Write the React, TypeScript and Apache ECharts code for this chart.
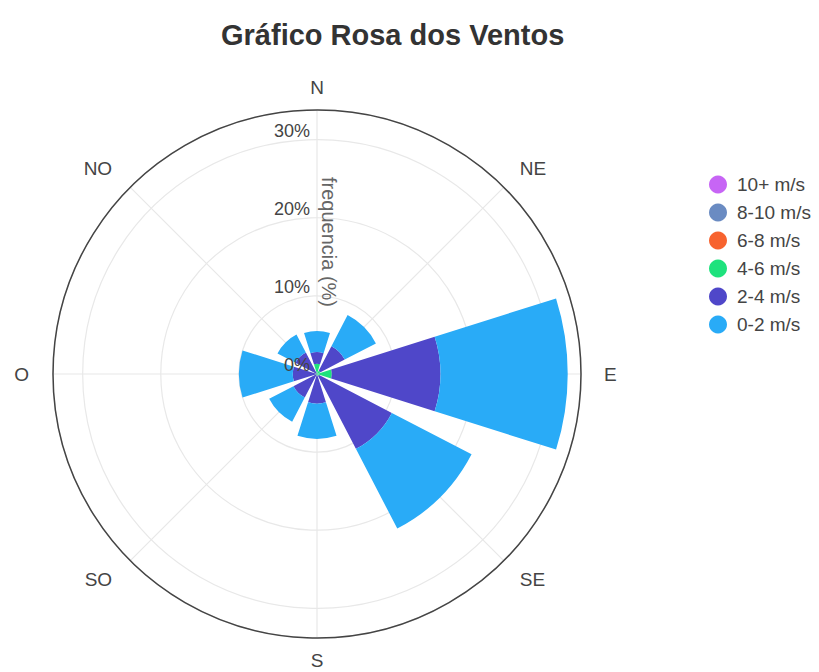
import React, { useEffect, useRef } from 'react';
import * as echarts from 'echarts';

const directions = ['N', 'NE', 'E', 'SE', 'S', 'SO', 'O', 'NO'];
const speedBins = ['10+ m/s', '8-10 m/s', '6-8 m/s', '4-6 m/s', '2-4 m/s', '0-2 m/s'];
const freq10plus = [0, 0, 0, 0, 0, 0, 0, 0];
const freq8to10 = [0, 0, 0, 0, 0, 0, 0, 0];
const freq6to8 = [0, 0, 0, 0, 0, 0, 0, 0];
const freq4to6 = [1.3, 0.5, 1.9, 0.3, 0.2, 0.1, 0.2, 0.1];
const freq2to4 = [1.5, 3.5, 13.9, 10.5, 3.6, 3.3, 2.9, 3.0];
const freq0to2 = [2.7, 4.5, 16.3, 11.5, 4.5, 3.5, 6.9, 2.6];
const binColors = ['#c765f5', '#6a8bc2', '#f7632f', '#1ee27d', '#4f47c9', '#29abf7'];
const radialMax = 33.8;
const radialInterval = 10;

const FONT = 'Liberation Sans, Arial, sans-serif';

// label style keys per direction (horizontal nudges)
const dirKey: Record<string, string> = {
  N: 'c', NE: 'r1', E: 'r2', SE: 'r1', S: 'c', SO: 'l1', O: 'l2', NO: 'l1',
};

export default function App() {
  const ref = useRef<HTMLDivElement>(null);
  useEffect(() => {
    if (!ref.current) return;
    const chart = echarts.init(ref.current, undefined, { renderer: 'svg' });
    const values = [freq10plus, freq8to10, freq6to8, freq4to6, freq2to4, freq0to2];
    const center = [317, 374];
    const radius = 264;
    const lab = { fontFamily: FONT, fontSize: 19, color: '#444444' };
    chart.setOption({
      animation: false,
      backgroundColor: '#ffffff',
      title: {
        text: 'Gráfico Rosa dos Ventos',
        left: 216,
        top: 15,
        textStyle: { fontFamily: FONT, fontSize: 29, fontWeight: 'bold', color: '#333333' },
      },
      legend: {
        orient: 'vertical',
        left: 704,
        top: 170,
        icon: 'circle',
        itemWidth: 18,
        itemHeight: 18,
        itemGap: 9,
        data: speedBins,
        textStyle: { fontFamily: FONT, fontSize: 19, color: '#444444', padding: [0, 0, 0, 5] },
      },
      polar: [
        { center, radius },
        { center, radius },
        { center, radius },
      ],
      angleAxis: [
        {
          polarIndex: 0,
          type: 'category',
          data: directions,
          startAngle: 112.5,
          clockwise: true,
          boundaryGap: true,
          z: 5,
          axisLine: { show: true, lineStyle: { color: '#444444', width: 1.5 } },
          axisTick: { show: false },
          axisLabel: {
            show: true,
            margin: 13,
            ...lab,
            formatter: (v: string) => `{${dirKey[v]}|${v}}`,
            rich: {
              c: { ...lab },
              r1: { ...lab, padding: [0, 0, 0, 7] },
              r2: { ...lab, padding: [0, 0, 0, 10] },
              l1: { ...lab, padding: [0, 9, 0, 0] },
              l2: { ...lab, padding: [0, 11, 0, 0] },
            },
          },
          splitLine: { show: false },
        },
        {
          polarIndex: 1,
          type: 'value',
          min: 0,
          max: 360,
          interval: 45,
          startAngle: 90,
          clockwise: true,
          z: 0,
          axisLine: { show: false },
          axisTick: { show: false },
          axisLabel: { show: false },
          splitLine: { show: true, lineStyle: { color: '#e8e8e8', width: 1.2 } },
        },
        {
          polarIndex: 2,
          type: 'value',
          min: 0,
          max: 360,
          startAngle: 90,
          clockwise: true,
          axisLine: { show: false },
          axisTick: { show: false },
          axisLabel: { show: false },
          splitLine: { show: false },
        },
      ],
      radiusAxis: [
        {
          polarIndex: 0,
          type: 'value',
          min: 0,
          max: radialMax,
          axisLine: { show: false },
          axisTick: { show: false },
          axisLabel: { show: false },
          splitLine: { show: false },
        },
        {
          polarIndex: 1,
          type: 'value',
          min: 0,
          max: radialMax,
          interval: radialInterval,
          z: 0,
          axisLine: { show: false },
          axisTick: { show: false },
          axisLabel: { show: false },
          splitLine: { show: true, lineStyle: { color: '#e8e8e8', width: 1.2 } },
        },
        {
          polarIndex: 2,
          type: 'value',
          min: 0,
          max: radialMax,
          interval: radialInterval,
          z: 6,
          name: 'frequencia (%)',
          nameLocation: 'middle',
          nameGap: 0,
          nameRotate: -90,
          nameTextStyle: { fontFamily: FONT, fontSize: 20, color: '#666666' },
          axisLine: { show: false },
          axisTick: { show: false },
          axisLabel: {
            show: true,
            showMaxLabel: false,
            formatter: (v: number) => v + '%',
            fontFamily: FONT,
            fontSize: 18,
            color: '#444444',
            margin: 7,
            verticalAlign: 'bottom',
          },
          splitLine: { show: false },
        },
      ],
      series: speedBins.map((name, i) => ({
        name,
        type: 'bar',
        coordinateSystem: 'polar',
        polarIndex: 0,
        stack: 'wind',
        barWidth: '78%',
        z: 2,
        data: values[i],
        itemStyle: { color: binColors[i] },
        emphasis: { disabled: true },
      })),
    });
    return () => chart.dispose();
  }, []);
  return (
    <div
      ref={ref}
      style={{ position: 'fixed', left: 0, top: 0, width: 819, height: 672, background: '#fff' }}
    />
  );
}
